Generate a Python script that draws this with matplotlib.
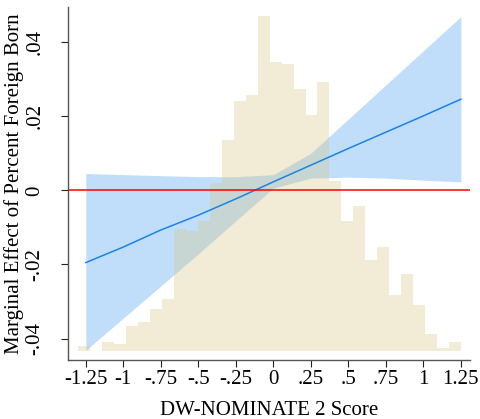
import numpy as np
import matplotlib
matplotlib.use("Agg")
import matplotlib.pyplot as plt

plt.rcParams["font.family"] = ["Liberation Serif", "DejaVu Serif"]

# marginal effect of percent foreign born, evaluated along DW-NOMINATE 2
dw_score = [-1.25, -1.0, -0.75, -0.5, -0.25, 0.0, 0.25, 0.5, 0.75, 1.0, 1.25]
me = [-0.0195, -0.0153, -0.0107, -0.0067, -0.0023, 0.0023, 0.0068, 0.0113, 0.0157, 0.0201, 0.0246]
ci_upper = [0.00456, 0.00424, 0.00397, 0.00370, 0.00370, 0.00424, 0.01004, 0.01925, 0.02846, 0.03769, 0.04690]
ci_lower = [-0.04314, -0.03448, -0.02581, -0.01714, -0.00821, 0.00059, 0.00329, 0.00356, 0.00329, 0.00275, 0.00229]

# histogram of DW-NOMINATE 2 scores (percent of members per bin)
hist_edges = np.linspace(-1.302, 1.252, 33)
hist_pct = [0.13, 0.00, 0.23, 0.18, 0.63, 0.73, 1.06, 1.32, 3.09, 3.04, 3.29, 4.25,
            5.34, 6.33, 6.48, 8.48, 7.31, 7.26, 6.63, 5.97, 6.81, 4.30, 3.29, 3.67,
            2.30, 2.63, 1.42, 1.95, 1.16, 0.43, 0.08, 0.23]

x_ticks = [-1.25, -1.0, -0.75, -0.5, -0.25, 0.0, 0.25, 0.5, 0.75, 1.0, 1.25]
x_labels = ["-1.25", "-1", "-.75", "-.5", "-.25", "0", ".25", ".5", ".75", "1", "1.25"]
y_ticks = [-0.04, -0.02, 0.0, 0.02, 0.04]
y_labels = ["-.04", "-.02", "0", ".02", ".04"]


def main() -> None:
    fig = plt.figure(figsize=(4.8, 4.19), dpi=100)
    ax = fig.add_axes([68 / 480, 59 / 419, 402 / 480, 353 / 419])
    ax.set_xlim(-1.369, 1.311)
    ax.set_ylim(-0.0458, 0.0495)

    # confidence band underneath
    ax.fill_between(dw_score, ci_lower, ci_upper, color="#C0DEFA", linewidth=0, zorder=1)

    # histogram on its own scale, semi-transparent over the band
    axh = ax.twinx()
    axh.set_ylim(-0.228, 8.71)
    axh.bar(hist_edges[:-1], hist_pct, width=np.diff(hist_edges), align="edge",
            color=(217 / 255, 198 / 255, 129 / 255), alpha=0.32, linewidth=0)
    axh.axis("off")

    # estimate line and zero reference on top
    axl = ax.twinx()
    axl.set_ylim(ax.get_ylim())
    axl.plot(dw_score, me, color="#1B83E6", lw=1.1)
    axl.axhline(0, color="#FF0000", lw=1.1)
    axl.axis("off")

    for side in ("top", "right"):
        ax.spines[side].set_visible(False)
    for side in ("left", "bottom"):
        ax.spines[side].set_color("#555555")
        ax.spines[side].set_linewidth(1.0)

    ax.set_xticks(x_ticks)
    ax.set_xticklabels(x_labels)
    ax.set_yticks(y_ticks)
    ax.set_yticklabels(y_labels, rotation=90, va="center")
    ax.tick_params(axis="both", labelsize=15, length=5, width=0.8, color="#222222")
    ax.tick_params(axis="x", pad=2)
    ax.tick_params(axis="y", pad=12)

    ax.set_xlabel("DW-NOMINATE 2 Score", fontsize=15, labelpad=9)
    ax.set_ylabel("Marginal Effect of Percent Foreign Born", fontsize=15, labelpad=1)

    fig.savefig("out.png", dpi=100)
    plt.close(fig)


if __name__ == "__main__":
    main()
